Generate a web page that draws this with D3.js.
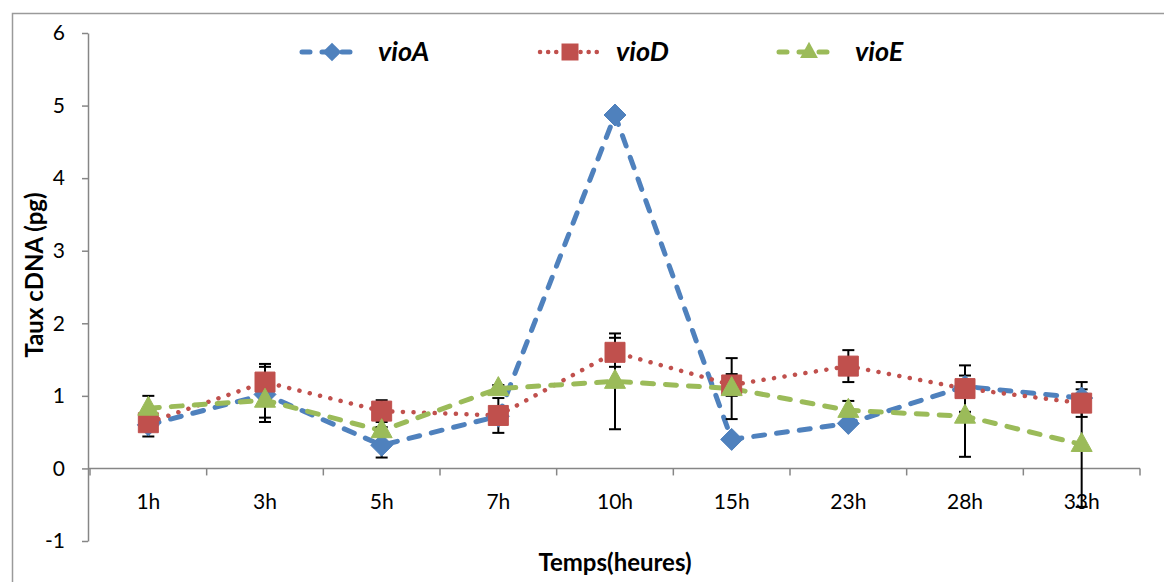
<!DOCTYPE html>
<html>
<head>
<meta charset="utf-8">
<script src="https://cdn.jsdelivr.net/npm/d3@7"></script>
<style>
  body { margin: 0; background: #fff; }
  text { font-family: Lato, "Open Sans", sans-serif; }
</style>
</head>
<body>
<div id="chart"></div>
<script>
// data
var categories = ["1h", "3h", "5h", "7h", "10h", "15h", "23h", "28h", "33h"];
var vioA    = [0.60, 1.02, 0.32, 0.72, 4.87, 0.40, 0.62, 1.13, 0.97];
var vioAErr = [0.16, 0.38, 0.17, 0.00, 0.03, 0.00, 0.00, 0.00, 0.00];
var vioD    = [0.63, 1.19, 0.79, 0.73, 1.60, 1.15, 1.41, 1.10, 0.90];
var vioDErr = [0.10, 0.25, 0.15, 0.24, 0.20, 0.15, 0.22, 0.32, 0.19];
var vioE    = [0.83, 0.94, 0.52, 1.10, 1.20, 1.10, 0.80, 0.72, 0.33];
var vioEErr = [0.17, 0.24, 0.05, 0.05, 0.66, 0.42, 0.13, 0.56, 0.86];
var yTicks  = [-1, 0, 1, 2, 3, 4, 5, 6];

var W = 1164, H = 582;

var series = [
  {name: "vioA", values: vioA, err: vioAErr, color: "#4F81BD", shape: "diamond",
   dash: "11,12", width: 5, legendX: 300},
  {name: "vioD", values: vioD, err: vioDErr, color: "#C0504D", shape: "square",
   dash: "0.1,10.5", width: 4.5, legendX: 538},
  {name: "vioE", values: vioE, err: vioEErr, color: "#9BBB59", shape: "triangle",
   dash: "11,12", width: 5, legendX: 777}
];

var svg = d3.select("#chart").append("svg")
  .attr("width", W)
  .attr("height", H);

// outer chart border
svg.append("rect")
  .attr("x", 12.5).attr("y", 13.5)
  .attr("width", W).attr("height", H)
  .attr("fill", "none")
  .attr("stroke", "#9a9a9a")
  .attr("stroke-width", 1.5);

var x = d3.scaleBand()
  .domain(categories)
  .range([90, 1140]);

var y = d3.scaleLinear()
  .domain([-1, 6])
  .range([541, 33]);

function cx(i) { return x(categories[i]) + x.bandwidth() / 2; }

// y axis
var yAxis = svg.append("g")
  .attr("transform", "translate(88,0)")
  .call(d3.axisLeft(y).tickValues(yTicks).tickFormat(function(d) { return String(d); })
    .tickSize(6).tickSizeOuter(0).tickPadding(17));
yAxis.select(".domain").attr("stroke", "#868686").attr("stroke-width", 1.5);
yAxis.selectAll(".tick line").attr("stroke", "#868686").attr("stroke-width", 1.5);
yAxis.selectAll(".tick text")
  .attr("font-size", 21).attr("fill", "#000")
  .style("font-family", "Lato, sans-serif");

// x axis at y = 0
var xAxis = svg.append("g")
  .attr("transform", "translate(0," + y(0) + ")")
  .call(d3.axisBottom(x).tickSize(0).tickPadding(26));
xAxis.select(".domain").remove();
xAxis.selectAll(".tick text")
  .attr("font-size", 21).attr("fill", "#000")
  .style("font-family", "Lato, sans-serif");
xAxis.append("line")
  .attr("x1", 88).attr("x2", x.range()[1])
  .attr("stroke", "#868686").attr("stroke-width", 1.5);
xAxis.selectAll(".sep")
  .data(d3.range(categories.length + 1))
  .enter().append("line")
    .attr("x1", function(i) { return x.range()[0] + i * x.step(); })
    .attr("x2", function(i) { return x.range()[0] + i * x.step(); })
    .attr("y1", 0).attr("y2", 7)
    .attr("stroke", "#868686").attr("stroke-width", 1.5);

// axis titles
svg.append("text")
  .attr("x", 615).attr("y", 571)
  .attr("text-anchor", "middle")
  .attr("font-size", 24).attr("font-weight", "bold")
  .text("Temps(heures)");

svg.append("text")
  .attr("transform", "translate(43,275) rotate(-90)")
  .attr("text-anchor", "middle")
  .attr("font-size", 24).attr("font-weight", "bold")
  .text("Taux cDNA (pg)");

var line = d3.line()
  .x(function(d, i) { return cx(i); })
  .y(function(d) { return y(d); });

// lines
series.forEach(function(s) {
  svg.append("path")
    .datum(s.values)
    .attr("d", line)
    .attr("fill", "none")
    .attr("stroke", s.color)
    .attr("stroke-width", s.width)
    .attr("stroke-linecap", "round")
    .attr("stroke-linejoin", "round")
    .attr("stroke-dasharray", s.dash);
});

// error bars
series.forEach(function(s) {
  var g = svg.append("g").attr("stroke", "#000").attr("stroke-width", 2);
  s.values.forEach(function(v, i) {
    var e = s.err[i];
    if (!e) return;
    var xx = cx(i);
    g.append("line").attr("x1", xx).attr("x2", xx).attr("y1", y(v + e)).attr("y2", y(v - e));
    g.append("line").attr("x1", xx - 6).attr("x2", xx + 6).attr("y1", y(v + e)).attr("y2", y(v + e));
    g.append("line").attr("x1", xx - 6).attr("x2", xx + 6).attr("y1", y(v - e)).attr("y2", y(v - e));
  });
});

function shapePath(shape) {
  if (shape == "diamond") return "M0,-11L11,0L0,11L-11,0Z";
  if (shape == "square") return "M-10,-10H10V10H-10Z";
  return "M0,-12L10.5,7L-10.5,7Z";
}

// markers
series.forEach(function(s) {
  svg.append("g").selectAll("path")
    .data(s.values)
    .enter().append("path")
      .attr("d", shapePath(s.shape))
      .attr("transform", function(d, i) { return "translate(" + cx(i) + "," + y(d) + ")"; })
      .attr("fill", s.color)
      .attr("stroke", s.color)
      .attr("stroke-width", 1);
});

// legend
var legend = svg.append("g").attr("transform", "translate(0,52)");
series.forEach(function(s) {
  var g = legend.append("g").attr("transform", "translate(" + s.legendX + ",0)");
  g.append("line")
    .attr("x1", 2).attr("x2", 60)
    .attr("stroke", s.color)
    .attr("stroke-width", s.width)
    .attr("stroke-linecap", "round")
    .attr("stroke-dasharray", s.shape == "square" ? "0.1,8" : "8,12");
  g.append("path")
    .attr("d", shapePath(s.shape))
    .attr("transform", "translate(32,0) scale(0.85)")
    .attr("fill", s.color);
  g.append("text")
    .attr("x", 78).attr("y", 9)
    .attr("font-size", 27)
    .attr("font-weight", "bold")
    .attr("font-style", "italic")
    .text(s.name);
});
</script>
</body>
</html>
